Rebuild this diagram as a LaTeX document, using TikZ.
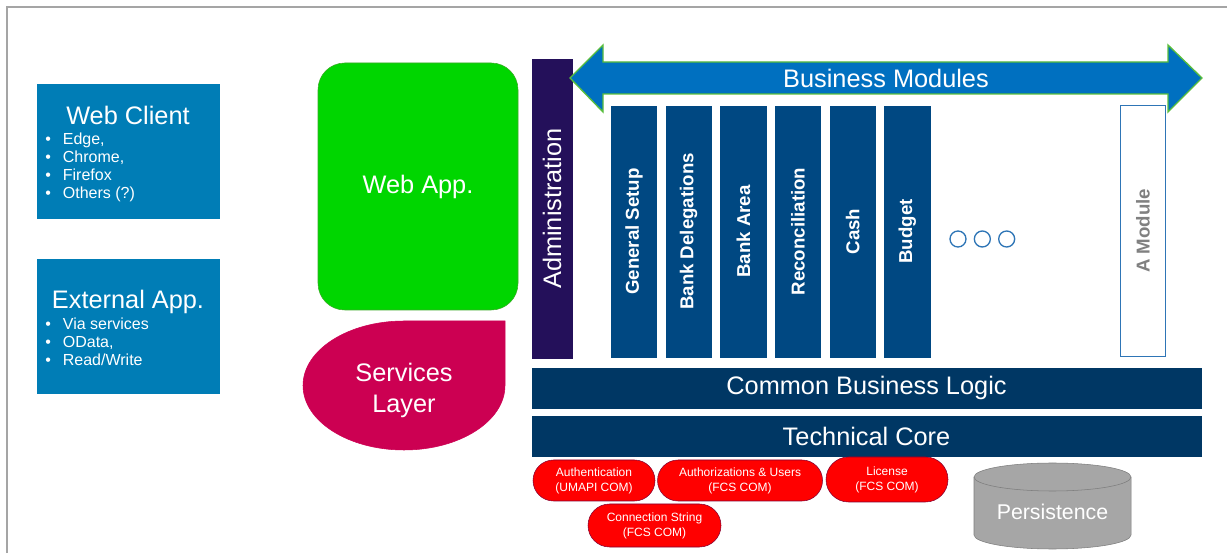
\documentclass[tikz,border=0pt]{standalone}
\usepackage{fontspec}
\usepackage{graphicx}
\setmainfont{Liberation Sans}
\usepackage{tikz}
\usetikzlibrary{positioning,shapes.misc}

\definecolor{clientblue}{RGB}{0,125,182}
\definecolor{webgreen}{RGB}{0,214,0}
\definecolor{webgreenline}{RGB}{60,170,40}
\definecolor{servicered}{RGB}{204,0,82}
\definecolor{adminpurple}{RGB}{36,16,90}
\definecolor{corenavy}{RGB}{0,55,100}
\definecolor{modblue}{RGB}{0,72,130}
\definecolor{arrowblue}{RGB}{0,112,192}
\definecolor{arrowgreen}{RGB}{90,190,60}
\definecolor{pillred}{RGB}{255,0,0}
\definecolor{pillline}{RGB}{130,0,50}
\definecolor{persgray}{RGB}{166,166,166}
\definecolor{persline}{RGB}{125,125,125}
\definecolor{dotblue}{RGB}{46,117,182}
\definecolor{framegray}{RGB}{165,165,165}

\newcommand{\bigfont}{\fontsize{19}{23.25}\selectfont}

\begin{document}
\begin{tikzpicture}[x=0.75pt,y=0.75pt]
	\tikzstyle{clientbox} = [rectangle, minimum width=136.5pt, minimum height=100.5pt, 
	fill=clientblue, draw=clientblue, inner sep=0pt]
	\tikzstyle{title} = [text=white, font=\bigfont, inner sep=0pt, anchor=base]
	\tikzstyle{bullets} = [text=white, font=\fontsize{12}{13.5}\selectfont, align=left, 
	inner sep=0pt, anchor=north west]
	\tikzstyle{module} = [rectangle, minimum width=34pt, minimum height=188.25pt, 
	fill=modblue, draw=modblue, text=white, font=\fontsize{14}{16}\selectfont\bfseries, inner sep=0pt]
	\tikzstyle{bar} = [rectangle, minimum width=501.75pt, minimum height=30pt, 
	fill=corenavy, draw=corenavy, text=white, font=\bigfont, inner sep=0pt]
	\tikzstyle{pill} = [rounded rectangle, minimum height=30.75pt, fill=pillred, draw=pillline, 
	text=white, font=\fontsize{9}{11.25}\selectfont, align=center, inner sep=0pt]
	\tikzstyle{dot} = [circle, minimum size=12pt, draw=dotblue, line width=1pt, inner sep=0pt]
	\useasboundingbox (0,0) rectangle (1227,553);
	% frame
	\draw [framegray, line width=1.5pt] (7,0) -- (7,546) -- (1227,546);
	% clients
	\node (webClient) [clientbox] at (128,402) {};
	\node (webClientTitle) [title] at (128,428) {Web Client};
	\node (webClientList) [bullets] at (45,420) {\textbullet\hspace{9pt}Edge,\\
		\textbullet\hspace{9pt}Chrome,\\ \textbullet\hspace{9pt}Firefox\\ \textbullet\hspace{9pt}Others (?)};
	\node (extApp) [clientbox, below=30.75pt of webClient] {};
	\node (extAppTitle) [title] at (128,244) {External App.};
	\node (extAppList) [bullets] at (45,235) {\textbullet\hspace{9pt}Via services\\
		\textbullet\hspace{9pt}OData,\\ \textbullet\hspace{9pt}Read/Write};
	% web app and services
	\node (webApp) [rectangle, rounded corners=20pt, minimum width=150pt, minimum height=185.25pt, 
	fill=webgreen, draw=webgreenline, text=white, font=\bigfont] at (418,366.5) {Web App.};
	\draw [fill=servicered, draw=servicered] (505,232) -- (404,232) 
	arc[start angle=90, end angle=360, x radius=101, y radius=64.5] -- cycle;
	\node (services) [text=white, font=\bigfont, align=center] at (404,163) {Services\\Layer};
	% administration
	\node (admin) [rectangle, rotate=90, minimum width=224.25pt, minimum height=30pt, 
	fill=adminpurple, draw=adminpurple, text=white, font=\bigfont, inner sep=0pt] at (552,344.5) {Administration};
	% business modules
	\draw [fill=arrowblue, draw=arrowgreen, line width=1pt] (570,475) -- (603,508) -- (603,491) 
	-- (1168,491) -- (1168,508) -- (1202,475) -- (1168,441) -- (1168,459) -- (603,459) -- (603,441) -- cycle;
	\node (businessModules) [title] at (886,465) {Business Modules};
	\node (generalSetup) [module] at (634,321.5) {\rotatebox{90}{General Setup}};
	\node (bankDelegations) [module, right=6.6pt of generalSetup] {\rotatebox{90}{Bank Delegations}};
	\node (bankArea) [module, right=6.6pt of bankDelegations] {\rotatebox{90}{Bank Area}};
	\node (reconciliation) [module, right=6.6pt of bankArea] {\rotatebox{90}{Reconciliation}};
	\node (cash) [module, right=6.6pt of reconciliation] {\rotatebox{90}{Cash}};
	\node (budget) [module, right=6.6pt of cash] {\rotatebox{90}{Budget}};
	\node (dotA) [dot] at (958,314) {};
	\node (dotB) [dot, right=5.25pt of dotA] {};
	\node (dotC) [dot, right=5.25pt of dotB] {};
	\node (aModule) [module, fill=white, draw=dotblue, text=gray] at (1143,322) {\rotatebox{90}{A Module}};
	% common layers
	\node (commonLogic) [bar] at (866.5,165) {Common Business Logic};
	\node (techCore) [bar, below=6pt of commonLogic] {Technical Core};
	\node (authentication) [pill, minimum width=91.5pt] at (594,72.5) {Authentication\\(UMAPI COM)};
	\node (authorizations) [pill, minimum width=123.75pt, right=1.5pt of authentication] 
	{Authorizations \& Users\\(FCS COM)};
	\node (license) [pill, minimum width=91.5pt, minimum height=33.75pt] at (887,73.5) {License\\(FCS COM)};
	\node (connection) [pill, minimum width=99.75pt, minimum height=32.25pt] at (654.5,27.5) 
	{Connection String\\(FCS COM)};
	% persistence
	\draw [fill=persgray, draw=persline] (974,76) -- (974,18) 
	arc[start angle=180, end angle=360, x radius=78.5, y radius=14] -- (1131,76) 
	arc[start angle=0, end angle=180, x radius=78.5, y radius=14] -- cycle;
	\draw [persline] (974,76) arc[start angle=180, end angle=360, x radius=78.5, y radius=14];
	\node (persistence) [title, font=\fontsize{16}{19}\selectfont] at (1052.5,33) {Persistence};
\end{tikzpicture}
\end{document}
